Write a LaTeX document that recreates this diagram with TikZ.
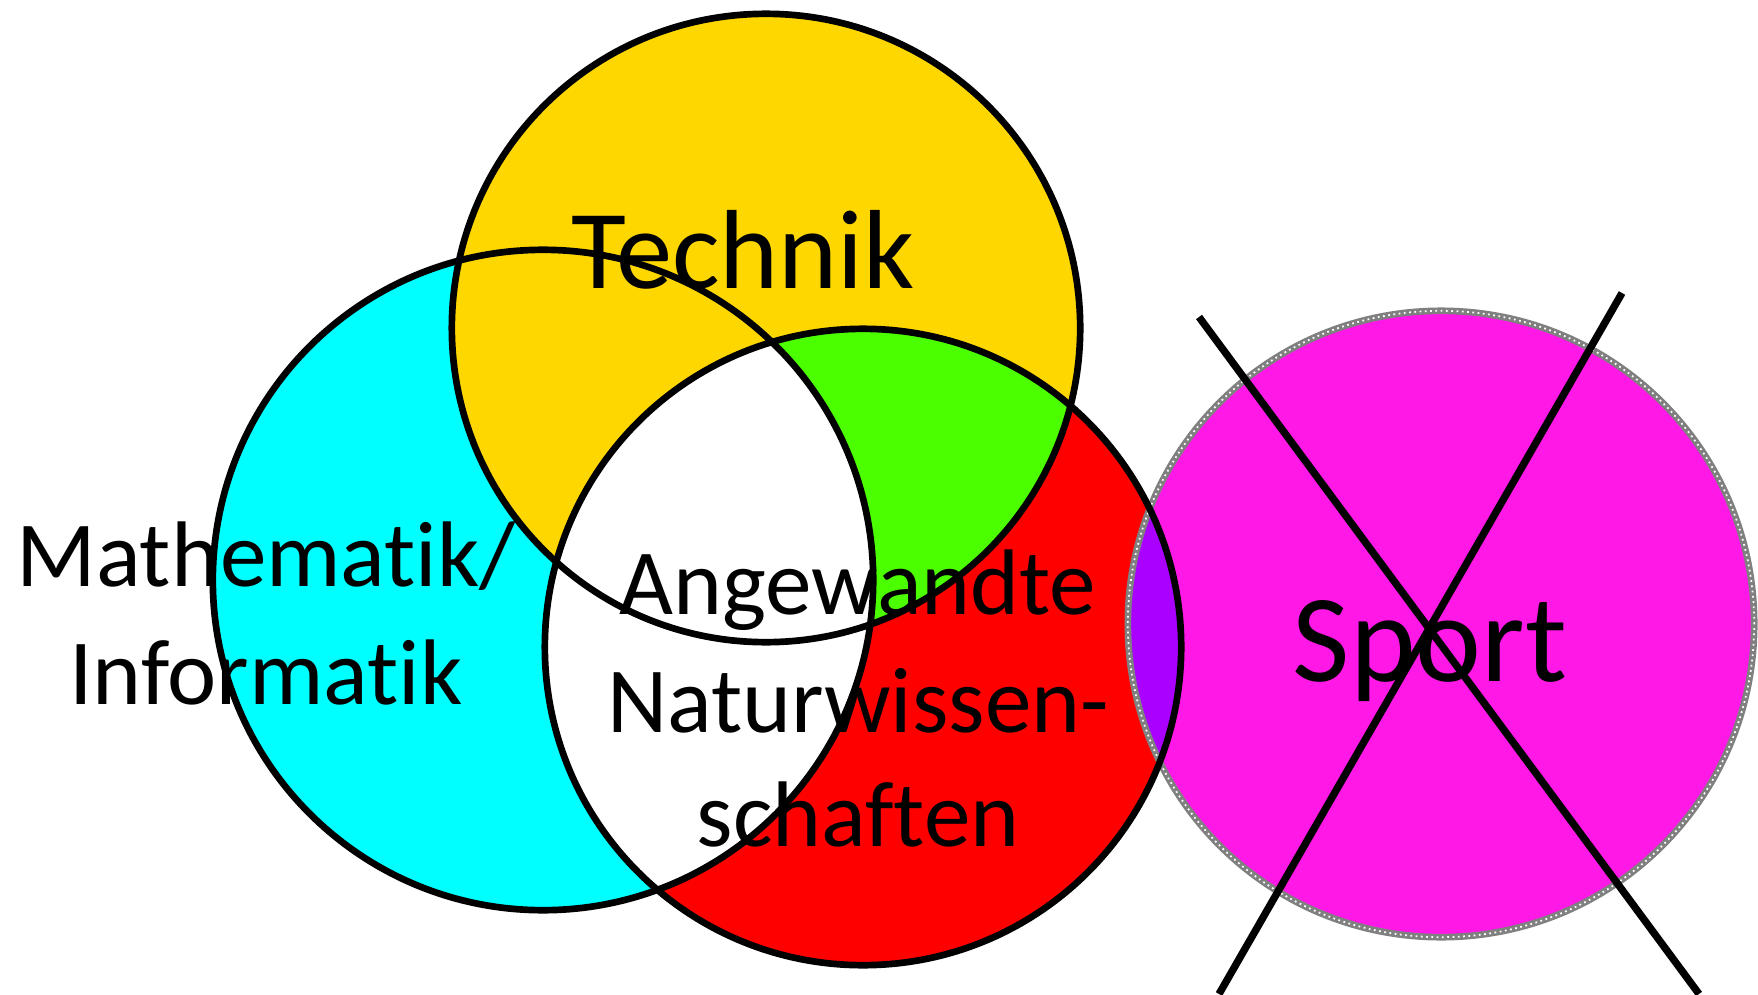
\documentclass[tikz,border=0pt]{standalone}
\usepackage{fontspec}
\setmainfont{Carlito}[RawFeature={-liga;-clig;-calt;-dlig}]
\usepackage{tikz}
\usetikzlibrary{positioning}
\definecolor{techyellow}{RGB}{255,215,0}
\definecolor{mathcyan}{RGB}{0,255,255}
\definecolor{natred}{RGB}{255,0,0}
\definecolor{overlapgreen}{RGB}{76,255,0}
\definecolor{sportpink}{RGB}{255,24,230}
\definecolor{overlappurple}{RGB}{170,0,255}
\newcommand{\techrad}{3.14cm}
\newcommand{\mathrad}{3.30cm}
\newcommand{\natrad}{3.18cm}
\newcommand{\sportrad}{3.13cm}

\begin{document}
\begin{tikzpicture}[x=0.01cm, y=-0.01cm,
rimline/.style={draw=black, line width=1.9pt},
sportrim/.style={draw=black!50, line width=1.9pt},
sportspeck/.style={draw=white, line width=0.5pt, dash pattern=on 0.5pt off 1pt},
crossline/.style={draw=black, line width=2.1pt},
fieldlabel/.style={inner sep=0pt, anchor=base, font=\fontsize{26.5}{33.6}\selectfont},
]
\useasboundingbox (0,0) rectangle (1758,994);

%Centres
\coordinate (tech)	at (766,328);
\coordinate (math)	at (543,580);
\coordinate (nat)	at (863,647);
\coordinate (sport)	at (1441,624);

%Fills
\fill[mathcyan] (math) circle[radius=\mathrad];
\fill[techyellow] (tech) circle[radius=\techrad];
\fill[natred] (nat) circle[radius=\natrad];
\begin{scope}
\clip (nat) circle[radius=\natrad];
\fill[overlapgreen] (tech) circle[radius=\techrad];
\fill[white] (math) circle[radius=\mathrad];
\end{scope}
\fill[sportpink] (sport) circle[radius=\sportrad];
\begin{scope}
\clip (nat) circle[radius=\natrad];
\fill[overlappurple] (sport) circle[radius=\sportrad];
\end{scope}

%Rims
\draw[sportrim] (sport) circle[radius=\sportrad];
\draw[sportspeck] (sport) circle[radius=\sportrad];
\draw[rimline] (math) circle[radius=\mathrad];
\draw[rimline] (tech) circle[radius=\techrad];
\draw[rimline] (nat) circle[radius=\natrad];

%Nodes
\node[fieldlabel, font=\fontsize{32}{38}\selectfont]	(techlabel)	at (743,288)	{Technik};
\node[fieldlabel]	(mathline)	at (266,586)	{Mathematik/};
\node[fieldlabel]	(infline)	at (266,704)	{Informatik};
\node[fieldlabel]	(angline)	at (858,614)	{Angewandte};
\node[fieldlabel]	(natline)	at (858,732)	{Naturwissen-};
\node[fieldlabel]	(schline)	at (858,846)	{schaften};
\node[fieldlabel, font=\fontsize{35.5}{42}\selectfont]	(sportlabel)	at (1430,681)	{Sport};

%Cross
\coordinate (crossA) at (1199,317);
\coordinate (crossB) at (1699,994);
\coordinate (crossC) at (1622,293);
\coordinate (crossD) at (1219,994);
\draw[crossline] (crossA) -- (crossB);
\draw[crossline] (crossC) -- (crossD);
\end{tikzpicture}
\end{document}
